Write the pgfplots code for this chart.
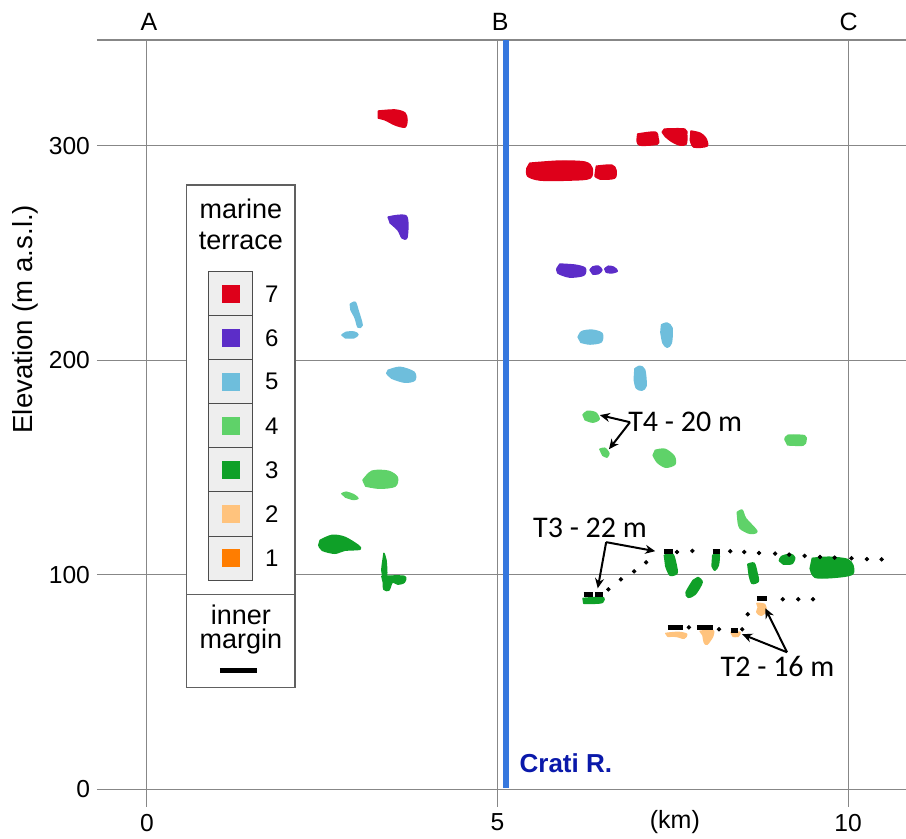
\documentclass[border=0pt]{standalone}
\usepackage{fontspec}
\setmainfont{Liberation Sans}
\newfontfamily\annfont{Carlito}
\usepackage{pgfplots}
\pgfplotsset{compat=1.18}
\usetikzlibrary{arrows.meta}

\definecolor{c7}{RGB}{222,0,26}
\definecolor{c6}{RGB}{92,45,200}
\definecolor{c5}{RGB}{110,190,220}
\definecolor{c4}{RGB}{95,210,105}
\definecolor{c3}{RGB}{15,160,40}
\definecolor{c2}{RGB}{255,195,125}
\definecolor{c1}{RGB}{255,125,0}
\definecolor{river}{RGB}{55,120,222}
\definecolor{cratitxt}{RGB}{10,25,170}
\definecolor{gridc}{RGB}{135,135,135}

\pgfplotsset{
  blob/.style={fill=#1, draw=#1, line width=0.7pt, line join=round, smooth},
  marg/.style={black, line width=2.5pt},
  ann/.style={black, line width=1pt, -{Stealth[length=5pt,width=4.5pt]}},
}

\begin{document}
\begin{tikzpicture}
\begin{axis}[name=a, scale only axis, width=404.5pt, height=383.5pt,
  xmin=-0.713, xmax=10.827, ymin=-8.2, ymax=349.2,
  axis line style={draw=none}, major tick length=0pt,
  xtick={0,5,10}, ytick={0,100,200,300},
  grid=major, major grid style={color=gridc, line width=0.5pt},
  tick label style={font=\fontsize{12.3}{14}\selectfont},
  /pgf/number format/assume math mode=true,
  clip=false]

% top frame line
\draw[gridc, line width=0.8pt] (rel axis cs:0,1) -- (rel axis cs:1,1);

% river
\addplot[river, line width=2.6pt] coordinates {(5.12,0.8) (5.12,349.2)};

% ---- terrace 7 (red)
\addplot[blob=c7] coordinates {(3.30,316.1) (3.54,316.6) (3.68,315.2) (3.71,311.9) (3.68,308.6) (3.54,309.6) (3.40,311.9) (3.30,312.8)} -- cycle;
\addplot[blob=c7] coordinates {(5.46,291.8) (5.89,292.8) (6.25,292.3) (6.35,289.5) (6.32,284.8) (6.03,283.9) (5.61,283.9) (5.43,285.8) (5.42,289.5)} -- cycle;
\addplot[blob=c7] coordinates {(6.41,290.4) (6.63,290.9) (6.69,288.6) (6.67,284.8) (6.46,284.4) (6.39,285.8)} -- cycle;
\addplot[blob=c7] coordinates {(7.00,305.4) (7.25,306.3) (7.29,303.5) (7.28,300.7) (7.03,300.2) (6.99,302.6)} -- cycle;
\addplot[blob=c7] coordinates {(7.38,307.7) (7.67,307.7) (7.70,305.0) (7.69,300.7) (7.60,300.2) (7.48,302.0) (7.39,304.4) (7.35,306.3)} -- cycle;
\addplot[blob=c7] coordinates {(7.76,306.8) (7.89,305.8) (7.97,303.5) (7.99,299.8) (7.80,299.3) (7.75,302.6)} -- cycle;

% ---- terrace 6 (purple)
\addplot[blob=c6] coordinates {(3.44,266.7) (3.70,267.1) (3.71,257.3) (3.64,256.9) (3.58,260.6) (3.47,263.9)} -- cycle;
\addplot[blob=c6] coordinates {(5.89,244.8) (6.11,244.3) (6.25,242.9) (6.23,239.6) (6.03,238.7) (5.86,240.6) (5.85,242.9)} -- cycle;
\addplot[blob=c6] coordinates {(6.32,242.0) (6.36,243.5) (6.44,243.8) (6.49,242.0) (6.44,240.3) (6.36,240.1)} -- cycle;
\addplot[blob=c6] coordinates {(6.53,242.5) (6.58,243.8) (6.66,243.3) (6.71,241.5) (6.62,240.6) (6.55,241.0)} -- cycle;

% ---- terrace 5 (light blue)
\addplot[blob=c5] coordinates {(2.90,226.1) (2.97,227.0) (3.01,223.3) (3.07,216.3) (3.01,215.4) (2.97,219.6) (2.91,223.3)} -- cycle;
\addplot[blob=c5] coordinates {(2.78,211.7) (2.84,213.0) (2.96,213.1) (3.01,211.9) (2.95,210.4) (2.83,210.4)} -- cycle;
\addplot[blob=c5] coordinates {(3.44,195.3) (3.61,196.7) (3.81,194.4) (3.82,190.7) (3.68,189.7) (3.49,191.6) (3.42,193.9)} -- cycle;
\addplot[blob=c5] coordinates {(6.15,210.7) (6.20,213.3) (6.35,214.0) (6.49,212.5) (6.48,208.5) (6.32,207.5) (6.19,208.3)} -- cycle;
\addplot[blob=c5] coordinates {(7.34,216.5) (7.42,217.3) (7.49,215.0) (7.48,208.0) (7.42,206.0) (7.36,208.0) (7.33,213.0)} -- cycle;
\addplot[blob=c5] coordinates {(6.96,196.0) (7.03,197.2) (7.10,195.5) (7.12,188.0) (7.06,186.0) (6.98,187.0) (6.95,191.0)} -- cycle;

% ---- terrace 4 (light green)
\addplot[blob=c4] coordinates {(3.08,144.1) (3.21,148.3) (3.44,148.3) (3.57,145.5) (3.54,141.3) (3.32,140.3) (3.12,141.3)} -- cycle;
\addplot[blob=c4] coordinates {(2.78,137.8) (2.84,138.5) (2.95,137.3) (3.01,135.6) (2.94,135.1) (2.83,136.2)} -- cycle;
\addplot[blob=c4] coordinates {(6.22,174.5) (6.28,176.2) (6.40,175.5) (6.45,172.5) (6.36,171.1) (6.25,172.2)} -- cycle;
\addplot[blob=c4] coordinates {(6.46,158.5) (6.53,159.0) (6.59,156.6) (6.56,154.8) (6.50,155.7)} -- cycle;
\addplot[blob=c4] coordinates {(7.25,158.0) (7.39,158.5) (7.52,155.2) (7.53,151.5) (7.40,150.1) (7.28,152.4) (7.22,155.7)} -- cycle;
\addplot[blob=c4] coordinates {(9.10,163.0) (9.14,165.0) (9.38,164.8) (9.40,162.5) (9.36,160.4) (9.14,160.5)} -- cycle;
\addplot[blob=c4] coordinates {(8.42,129.1) (8.49,130.1) (8.54,126.3) (8.70,120.3) (8.60,119.3) (8.46,121.7) (8.43,125.4)} -- cycle;

% ---- terrace 3 (dark green)
\addplot[blob=c3] coordinates {(2.47,116.1) (2.64,118.4) (2.82,117.5) (3.01,113.8) (3.04,111.9) (2.82,111.4) (2.68,110.0) (2.50,111.4) (2.45,113.8)} -- cycle;
\addplot[blob=c3] coordinates {(3.38,110.0) (3.41,106.8) (3.42,99.8) (3.38,98.4) (3.35,102.1) (3.37,107.7)} -- cycle;
\addplot[blob=c3] coordinates {(3.35,99.3) (3.67,99.3) (3.67,96.5) (3.58,95.6) (3.50,96.5) (3.45,92.8) (3.38,93.2) (3.37,96.5)} -- cycle;
\addplot[blob=c3] coordinates {(6.22,89.0) (6.50,89.5) (6.50,87.2) (6.39,86.7) (6.23,86.7)} -- cycle;
\addplot[blob=c3] coordinates {(7.38,109.1) (7.50,109.6) (7.55,104.4) (7.56,100.7) (7.46,99.8) (7.40,104.0)} -- cycle;
\addplot[blob=c3] coordinates {(8.07,109.1) (8.16,109.6) (8.15,104.4) (8.10,102.1) (8.06,104.0)} -- cycle;
\addplot[blob=c3] coordinates {(7.86,98.8) (7.92,96.5) (7.82,90.9) (7.72,89.5) (7.69,91.8) (7.79,97.4)} -- cycle;
\addplot[blob=c3] coordinates {(8.57,104.9) (8.66,105.4) (8.70,101.2) (8.72,97.0) (8.63,96.0) (8.59,99.8)} -- cycle;
\addplot[blob=c3] coordinates {(9.02,106.5) (9.05,108.5) (9.18,109.6) (9.24,108.0) (9.20,105.2) (9.08,104.9)} -- cycle;
\addplot[blob=c3] coordinates {(9.49,107.7) (9.74,108.2) (9.99,107.2) (10.07,104.4) (10.06,100.2) (9.81,98.8) (9.53,98.8) (9.46,103.0)} -- cycle;

% ---- terrace 2 (light orange)
\addplot[blob=c2] coordinates {(7.40,72.7) (7.58,73.2) (7.70,72.3) (7.66,70.4) (7.55,71.3) (7.43,71.3)} -- cycle;
\addplot[blob=c2] coordinates {(7.89,73.7) (8.07,74.1) (8.07,71.3) (7.99,67.6) (7.95,68.5) (7.93,71.8)} -- cycle;
\addplot[blob=c2] coordinates {(8.33,73.2) (8.46,73.2) (8.43,71.3) (8.36,71.3)} -- cycle;
\addplot[blob=c2] coordinates {(8.70,86.7) (8.81,86.2) (8.83,83.0) (8.76,81.1) (8.70,82.5) (8.72,84.8)} -- cycle;

% ---- inner margins
\addplot[marg] coordinates {(6.23,90.7) (6.36,90.7)};
\addplot[marg] coordinates {(6.39,90.7) (6.50,90.7)};
\addplot[marg] coordinates {(7.38,110.7) (7.50,110.7)};
\addplot[marg] coordinates {(8.07,110.7) (8.17,110.7)};
\addplot[marg] coordinates {(7.43,75.3) (7.65,75.3)};
\addplot[marg] coordinates {(7.85,75.3) (8.07,75.3)};
\addplot[marg] coordinates {(8.33,73.9) (8.43,73.9)};
\addplot[marg] coordinates {(8.70,88.8) (8.84,88.8)};

% ---- dotted correlation lines
\addplot[only marks, mark=*, mark size=0.9pt, black] coordinates {
 (6.58,93.2) (6.76,97.9) (6.95,101.6) (7.12,105.8)
 (7.56,110.6) (7.78,111.1) (8.32,111.0) (8.52,110.6) (8.73,110.2) (8.96,109.9)
 (9.16,109.4) (9.38,108.8) (9.60,108.3) (9.81,108.0) (10.05,107.7) (10.27,107.3) (10.48,107.2)
 (7.73,75.5) (8.16,74.6) (8.49,74.6) (8.57,81.6)
 (9.07,88.6) (9.29,88.6) (9.50,88.6)};

% ---- annotation arrows
\addplot[ann] coordinates {(6.89,171.1) (6.46,174.4)};
\addplot[ann] coordinates {(6.89,171.1) (6.59,158.5)};
\addplot[ann] coordinates {(6.55,115.2) (7.25,111.0)};
\addplot[ann] coordinates {(6.55,115.2) (6.43,93.7)};
\addplot[ann] coordinates {(9.13,63.9) (8.49,72.3)};
\addplot[ann] coordinates {(9.13,63.9) (8.82,84.4)};

\node[anchor=west, inner sep=0, font=\annfont\fontsize{15}{17}\selectfont] at (axis cs:6.86,171.1) {T4 - 20 m};
\node[inner sep=0, font=\annfont\fontsize{15}{17}\selectfont] at (axis cs:6.32,121.9) {T3 - 22 m};
\node[inner sep=0, font=\annfont\fontsize{15}{17}\selectfont] at (axis cs:8.995,57.1) {T2 - 16 m};

% ---- river label
\node[anchor=west, inner sep=0, text=cratitxt, font=\bfseries\fontsize{13}{15}\selectfont] at (axis cs:5.31,12.4) {Crati R.};

% ---- section letters
\node[font=\fontsize{12.5}{14}\selectfont] at ([yshift=9pt]axis cs:0.03,349.2) {A};
\node[font=\fontsize{12.5}{14}\selectfont] at ([yshift=9pt]axis cs:5.04,349.2) {B};
\node[font=\fontsize{12.5}{14}\selectfont] at ([yshift=9pt]axis cs:10.01,349.2) {C};

% ---- axis titles
\node[rotate=90, font=\fontsize{13.8}{16}\selectfont] at ([xshift=-35.75pt]axis cs:-0.713,219.1) {Elevation (m a.s.l.)};
\node[font=\fontsize{12.5}{14}\selectfont] at ([yshift=-7.5pt]axis cs:7.53,-8.2) {(km)};

% ---- legend
\filldraw[fill=white, draw=gray!75!black, line width=0.6pt] (axis cs:0.566,281.6) rectangle (axis cs:2.111,47.6);
\draw[gray!75!black, line width=0.6pt] (axis cs:0.566,90.8) -- (axis cs:2.111,90.8);
\node[align=center, inner sep=0, font=\fontsize{13.5}{15.5}\selectfont] at (axis cs:1.34,263.5) {marine\\terrace};
\node[anchor=base, inner sep=0, font=\fontsize{13.5}{15}\selectfont] at (axis cs:1.34,76.9) {inner};
\node[anchor=base, inner sep=0, font=\fontsize{13.5}{15}\selectfont] at (axis cs:1.34,65.7) {margin};
\draw[black, line width=2.5pt] (axis cs:1.04,55.5) -- (axis cs:1.57,55.5);

\filldraw[fill=gray!13, draw=gray!60!black, line width=0.5pt] (axis cs:0.875,241.2) rectangle (axis cs:1.508,220.7);
\filldraw[fill=gray!13, draw=gray!60!black, line width=0.5pt] (axis cs:0.875,220.7) rectangle (axis cs:1.508,200.2);
\filldraw[fill=gray!13, draw=gray!60!black, line width=0.5pt] (axis cs:0.875,200.2) rectangle (axis cs:1.508,179.6);
\filldraw[fill=gray!13, draw=gray!60!black, line width=0.5pt] (axis cs:0.875,179.6) rectangle (axis cs:1.508,159.1);
\filldraw[fill=gray!13, draw=gray!60!black, line width=0.5pt] (axis cs:0.875,159.1) rectangle (axis cs:1.508,138.6);
\filldraw[fill=gray!13, draw=gray!60!black, line width=0.5pt] (axis cs:0.875,138.6) rectangle (axis cs:1.508,118.0);
\filldraw[fill=gray!13, draw=gray!60!black, line width=0.5pt] (axis cs:0.875,118.0) rectangle (axis cs:1.508,97.5);

\fill[c7] (axis cs:1.065,235.15) rectangle (axis cs:1.327,226.65);
\fill[c6] (axis cs:1.065,214.65) rectangle (axis cs:1.327,206.15);
\fill[c5] (axis cs:1.065,194.15) rectangle (axis cs:1.327,185.65);
\fill[c4] (axis cs:1.065,173.65) rectangle (axis cs:1.327,165.15);
\fill[c3] (axis cs:1.065,153.15) rectangle (axis cs:1.327,144.65);
\fill[c2] (axis cs:1.065,132.55) rectangle (axis cs:1.327,124.05);
\fill[c1] (axis cs:1.065,112.05) rectangle (axis cs:1.327,103.55);

\node[font=\fontsize{12}{14}\selectfont] at (axis cs:1.78,230.9) {7};
\node[font=\fontsize{12}{14}\selectfont] at (axis cs:1.78,210.4) {6};
\node[font=\fontsize{12}{14}\selectfont] at (axis cs:1.78,189.9) {5};
\node[font=\fontsize{12}{14}\selectfont] at (axis cs:1.78,169.4) {4};
\node[font=\fontsize{12}{14}\selectfont] at (axis cs:1.78,148.9) {3};
\node[font=\fontsize{12}{14}\selectfont] at (axis cs:1.78,128.3) {2};
\node[font=\fontsize{12}{14}\selectfont] at (axis cs:1.78,107.8) {1};
\end{axis}
\pgfresetboundingbox
\path[use as bounding box] ([xshift=-48.5pt,yshift=-16pt]a.south west) rectangle ([yshift=20pt]a.north east);
\end{tikzpicture}
\end{document}
